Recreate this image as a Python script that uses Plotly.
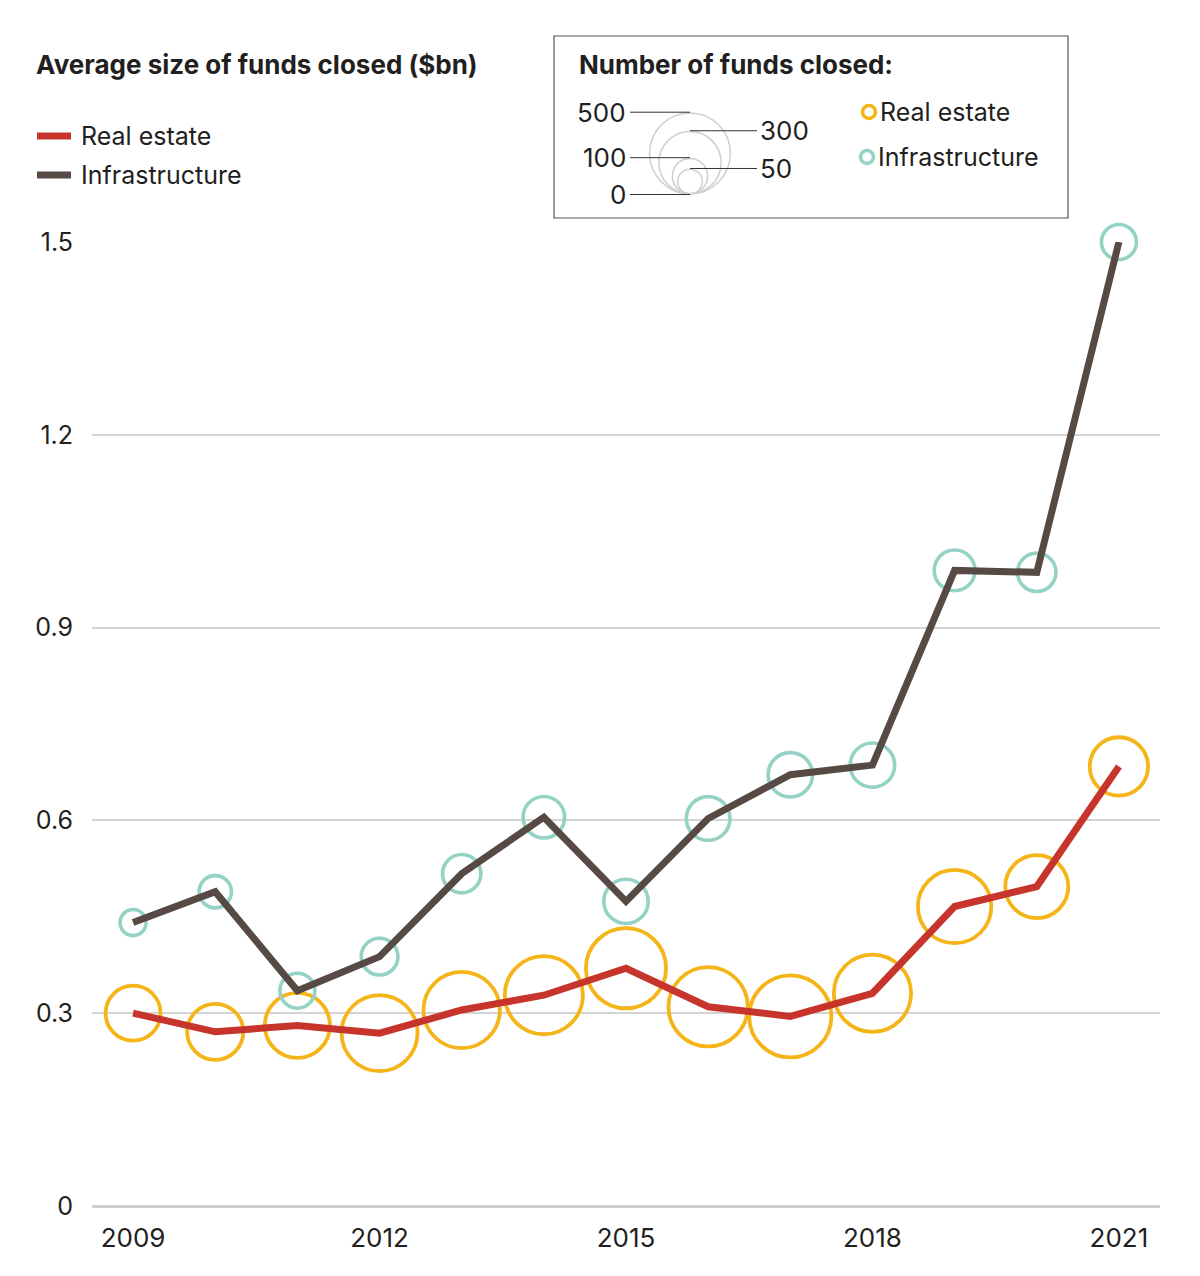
import numpy as np
import plotly.graph_objects as go

# ---------------- data ----------------
years = list(range(2009, 2022))
re_avg = [0.300, 0.271, 0.281, 0.269, 0.305, 0.328, 0.370, 0.310, 0.295, 0.331, 0.466, 0.497, 0.684]
inf_avg = [0.441, 0.489, 0.335, 0.388, 0.517, 0.605, 0.474, 0.603, 0.671, 0.686, 0.989, 0.986, 1.500]
re_count = [255, 265, 350, 470, 475, 495, 520, 510, 545, 485, 440, 330, 285]
inf_count = [65, 95, 110, 120, 130, 150, 170, 165, 170, 170, 145, 130, 110]
xtick_vals = [2009, 2012, 2015, 2018, 2021]
ytick_vals = [0, 0.3, 0.6, 0.9, 1.2, 1.5]
ytick_text = ["0", "0.3", "0.6", "0.9", "1.2", "1.5"]
size_legend_left = [500, 100, 0]
size_legend_right = [300, 50]

# ---------------- style ----------------
W, H = 1200, 1276
L, R, T, B = 92, 40, 242, 70
FONT = "Inter"
TXT = "#231f20"
RED = "#C7342B"
DARK = "#574A44"
ORANGE = "#F5B417"
TEAL = "#93D2C4"
GRID = "#D4D4D4"
K = 3.68          # outer bubble diameter per sqrt(count)
RE_LW = 3.8
INF_LW = 3.6


def px(x):
    return (x - L) / (W - L - R)


def py(y):
    return (H - B - y) / (H - T - B)


def diam(n, lw):
    return K * np.sqrt(np.array(n, dtype=float)) - lw


fig = go.Figure()

fig.add_trace(go.Scatter(
    x=years, y=re_avg, mode="markers", cliponaxis=False, hoverinfo="skip",
    marker=dict(size=diam(re_count, RE_LW), color="rgba(0,0,0,0)", opacity=1,
                line=dict(color=ORANGE, width=RE_LW)), showlegend=False))
fig.add_trace(go.Scatter(
    x=years, y=re_avg, mode="lines", cliponaxis=False,
    line=dict(color=RED, width=7), name="Real estate", showlegend=False))
fig.add_trace(go.Scatter(
    x=years, y=inf_avg, mode="markers", cliponaxis=False, hoverinfo="skip",
    marker=dict(size=diam(inf_count, INF_LW), color="rgba(0,0,0,0)", opacity=1,
                line=dict(color=TEAL, width=INF_LW)), showlegend=False))
fig.add_trace(go.Scatter(
    x=years, y=inf_avg, mode="lines", cliponaxis=False,
    line=dict(color=DARK, width=7), name="Infrastructure", showlegend=False))

shapes = []
annotations = []


def text(x, y, s, anchor="left", size=25, bold=False):
    annotations.append(dict(
        x=px(x), y=py(y), xref="paper", yref="paper", xanchor=anchor, yanchor="middle",
        text=f"<b>{s}</b>" if bold else s, showarrow=False,
        font=dict(family=FONT, size=size, color=TXT)))


def hline(x0, x1, y, color, width):
    shapes.append(dict(type="line", xref="paper", yref="paper",
                       x0=px(x0), x1=px(x1), y0=py(y), y1=py(y),
                       line=dict(color=color, width=width)))


def circle(cx, cy, d, color, width):
    r = d / 2
    shapes.append(dict(type="circle", xref="paper", yref="paper",
                       x0=px(cx - r), x1=px(cx + r), y0=py(cy + r), y1=py(cy - r),
                       line=dict(color=color, width=width)))


# Title + line legend
text(34, 64, "Average size of funds closed ($bn)", size=26, bold=True)
hline(37, 71, 136, RED, 7)
hline(37, 71, 175, DARK, 7)
text(79, 136, "Real estate")
text(79, 175, "Infrastructure")

# Bubble legend box
shapes.append(dict(type="rect", xref="paper", yref="paper",
                   x0=px(554), x1=px(1068), y0=py(218), y1=py(36),
                   line=dict(color="#555555", width=1.2), fillcolor="rgba(0,0,0,0)"))
text(577, 64, "Number of funds closed:", size=26, bold=True)

cx, by = 690, 194.5
CL = 1.5
for n in sorted(size_legend_left + size_legend_right, reverse=True):
    if n > 0:
        d = K * np.sqrt(n) - CL
        circle(cx, by - CL / 2 - d / 2, d, "#CFCFCF", CL)
for n in size_legend_left:
    ytop = by - K * np.sqrt(n)
    hline(630, cx, ytop, "#333333", 1)
    text(628, ytop, str(n), anchor="right", size=26)
for n in size_legend_right:
    ytop = by - K * np.sqrt(n)
    hline(cx, 757, ytop, "#333333", 1)
    text(758, ytop, str(n), anchor="left", size=26)

circle(869, 112, 13, ORANGE, 3.5)
circle(867, 157, 13, TEAL, 3.5)
text(878, 112, "Real estate")
text(876, 157, "Infrastructure")

fig.update_layout(
    width=W, height=H,
    margin=dict(l=L, r=R, t=T, b=B, pad=0),
    paper_bgcolor="white", plot_bgcolor="white",
    font=dict(family=FONT, color=TXT),
    shapes=shapes, annotations=annotations,
    xaxis=dict(range=[2008.5, 2021.5], tickvals=xtick_vals,
               ticktext=[str(v) for v in xtick_vals],
               showgrid=False, zeroline=False, showline=False, ticks="",
               tickfont=dict(family=FONT, size=26, color=TXT), ticklabelstandoff=14),
    yaxis=dict(range=[0, 1.5], tickvals=ytick_vals, ticktext=ytick_text,
               showgrid=True, gridcolor=GRID, gridwidth=2,
               zeroline=True, zerolinecolor="#CFCFCF", zerolinewidth=3,
               showline=False, ticks="",
               tickfont=dict(family=FONT, size=25, color=TXT), ticklabelstandoff=18),
    hovermode=False,
)

fig.write_html("out.html")
